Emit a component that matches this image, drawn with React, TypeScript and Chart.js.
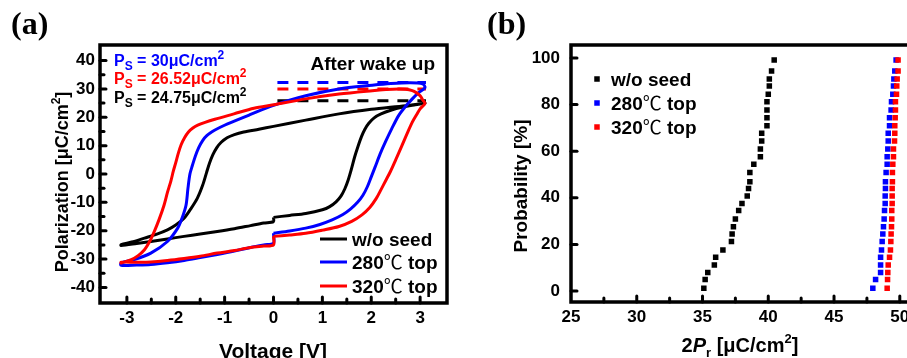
import React, { useEffect, useRef } from "react";
import { Chart, registerables } from "chart.js";
Chart.register(...registerables);

const FONT = '"Liberation Sans", Arial, Helvetica, sans-serif';
const CJK = '"Noto Sans CJK SC", "Noto Sans CJK JP", sans-serif';
const SERIF = '"Liberation Serif", "Times New Roman", serif';

// ---------------- Panel (a): P–V hysteresis loops ----------------
const voltTicks = [-3, -2, -1, 0, 1, 2, 3];
const polTicks = [-40, -30, -20, -10, 0, 10, 20, 30, 40];

const blackV = [0, 0.33, 0.66, 1.0, 1.15, 1.28, 1.38, 1.46, 1.53, 1.59, 1.66, 1.73, 1.8, 1.87, 1.95, 2.06, 2.2, 2.4, 2.65, 2.9, 3.1,
  2.7, 2.0, 1.34, 0.66, 0, -0.3, -0.61, -0.8, -0.95, -1.07, -1.16, -1.24, -1.31, -1.37, -1.45, -1.56, -1.7, -1.83, -2.0, -2.17, -2.4, -2.64, -2.9, -3.12,
  -3.12, -2.8, -2.51, -2.17, -1.83, -1.5, -1.15, -0.8, -0.47, -0.2, 0, 0];
const blackP = [-15.3, -14.6, -13.9, -12.6, -11.5, -9.8, -7.8, -5.2, -2, 1.5, 6, 9.8, 13.2, 15.8, 17.9, 19.8, 21.2, 22.5, 23.6, 24.4, 25,
  24.1, 22.8, 21.2, 19, 16.8, 15.8, 14.8, 13.9, 12.8, 11.2, 9.3, 6.8, 3.8, 0.5, -4, -8.6, -12.5, -15.6, -18, -19.7, -21.3, -22.6, -24, -24.9,
  -25.2, -24.5, -23.8, -22.9, -22, -21.2, -20.3, -19.3, -18.2, -17.3, -16.8, -15.3];

const blueV = [0, 0.33, 0.66, 0.95, 1.2, 1.42, 1.58, 1.72, 1.83, 1.92, 2.0, 2.08, 2.18, 2.29, 2.42, 2.56, 2.7, 2.84, 2.97, 3.1,
  3.05, 2.8, 2.4, 2.02, 1.34, 0.66, 0, -0.47, -0.94, -1.1, -1.25, -1.36, -1.45, -1.53, -1.6, -1.66, -1.71, -1.75, -1.79, -1.87, -1.96, -2.17, -2.51, -2.85, -3.12,
  -3.12, -2.8, -2.51, -2.17, -1.83, -1.5, -1.15, -0.8, -0.47, -0.2, 0, 0];
const blueP = [-20.9, -20.1, -19.1, -17.8, -16.2, -14.3, -12.3, -10, -7.5, -4.5, -1, 2.5, 7, 11.3, 16, 20.6, 23.8, 26.5, 28.7, 30.5,
  31.8, 32.2, 31.9, 31.3, 30, 27.6, 24.2, 21, 17.7, 16.4, 15, 13.6, 11.8, 9.3, 6.3, 3, 0, -5, -11, -15.5, -19.1, -23.8, -27.9, -30.2, -31.4,
  -32.2, -32.1, -31.9, -31.3, -30.5, -29.5, -28.4, -27.2, -25.9, -25, -24.4, -20.9];

const redV = [0, 0.33, 0.66, 1.0, 1.34, 1.6, 1.81, 1.97, 2.1, 2.2, 2.3, 2.39, 2.5, 2.63, 2.74, 2.84, 2.93, 3.0, 3.1,
  3.05, 3.0, 2.92, 2.84, 2.7, 2.56, 2.3, 2.02, 1.34, 0.66, 0, -0.4, -0.81, -1.2, -1.4, -1.55, -1.65, -1.74, -1.82, -1.89, -1.95, -2.0, -2.05, -2.1, -2.17, -2.24, -2.34, -2.44, -2.54, -2.64, -2.77, -2.91, -3.12,
  -3.12, -2.8, -2.51, -2.17, -1.83, -1.5, -1.15, -0.8, -0.47, -0.2, 0, 0];
const redP = [-22, -21.5, -20.9, -19.8, -18.5, -16.7, -14.4, -11.8, -8.7, -5.5, -2.2, 0.8, 5, 10.1, 14.5, 18.3, 21, 23, 24.9,
  26.2, 27.6, 28.7, 29.4, 29.9, 30, 29.8, 29.4, 28.2, 26.5, 24.4, 23.2, 21.2, 19.3, 18.2, 17.2, 16.2, 14.8, 12.8, 10.3, 7.2, 4, 1, -2.5, -6.5, -11, -16, -20.3, -24, -26.7, -28.8, -30.2, -31.4,
  -31.1, -31.1, -31, -30.5, -29.8, -29, -27.9, -27, -25.9, -25.4, -25, -22];

// saturation guide lines (dashed)
const dashV = [0.08, 3.12];
const psBlueLevel = 32.3;
const psRedLevel = 30.0;
const psBlackLevel = 25.8;
const psTexts = ["30", "26.52", "24.75"];

// ---------------- Panel (b): cumulative probability of 2Pr ----------------
const prTicks = [25, 30, 35, 40, 45, 50, 55];
const probTicks = [0, 20, 40, 60, 80, 100];
const probLevels = [1.2, 4.9, 7.9, 11.2, 14.5, 17.6, 21.2, 24.5, 27.6, 30.9, 34.5, 37.6, 40.8, 44.0, 46.9,
  50.9, 54.4, 57.6, 60.9, 64.4, 67.7, 70.9, 74.4, 77.7, 81.2, 84.4, 88.0, 91.0, 94.4, 99.1];
const prBlack = [35.1, 35.2, 35.4, 35.9, 36.0, 36.55, 37.2, 37.25, 37.35, 37.5, 37.75, 38.0, 38.4, 38.5, 38.6,
  38.6, 38.9, 39.4, 39.4, 39.5, 39.5, 39.9, 39.9, 39.9, 39.9, 40.0, 40.08, 40.08, 40.25, 40.45];
const prBlue = [47.95, 48.16, 48.54, 48.54, 48.54, 48.61, 48.66, 48.71, 48.76, 48.81, 48.84, 48.89, 48.89, 48.91, 48.91,
  48.96, 49.04, 49.04, 49.09, 49.12, 49.12, 49.22, 49.22, 49.34, 49.37, 49.47, 49.52, 49.55, 49.62, 49.72];
const prRed = [49.04, 49.07, 49.09, 49.12, 49.22, 49.29, 49.32, 49.34, 49.37, 49.39, 49.39, 49.42, 49.42, 49.42, 49.44,
  49.44, 49.47, 49.52, 49.52, 49.60, 49.62, 49.62, 49.65, 49.67, 49.67, 49.75, 49.77, 49.80, 49.87, 49.87];

const seriesNames = ["w/o seed", "280\u2103 top", "320\u2103 top"];
const seriesColors = ["#000000", "#0000ff", "#ff0000"];

type Seg = { t: string; size: number; dy?: number; italic?: boolean; fam?: string; weight?: string };

function fontOf(s: Seg) {
  return `${s.italic ? "italic " : ""}${s.weight || "bold"} ${s.size}px ${s.fam || FONT}`;
}

function drawRich(ctx: CanvasRenderingContext2D, x: number, y: number, segs: Seg[], color: string, align = "left") {
  ctx.fillStyle = color;
  ctx.textBaseline = "alphabetic";
  ctx.textAlign = "left";
  let w = 0;
  for (const s of segs) {
    ctx.font = fontOf(s);
    w += ctx.measureText(s.t).width;
  }
  let cx = align === "center" ? x - w / 2 : align === "right" ? x - w : x;
  for (const s of segs) {
    ctx.font = fontOf(s);
    ctx.fillText(s.t, cx, y + (s.dy || 0));
    cx += ctx.measureText(s.t).width;
  }
}

// split a label so the degree-Celsius sign uses a lighter CJK glyph
function labelSegs(text: string, size: number): Seg[] {
  const parts = text.split("\u2103");
  const out: Seg[] = [];
  parts.forEach((p, i) => {
    if (i > 0) out.push({ t: "\u2103", size: size, fam: CJK, weight: "normal" });
    if (p) out.push({ t: p, size });
  });
  return out;
}

function drawFrame(chart: any, xMajor: number[], xMinor: number[], yMajor: number[], yMinor: number[]) {
  const { ctx, chartArea: a } = chart;
  const xs = chart.scales.x;
  const ys = chart.scales.y;
  ctx.save();
  ctx.strokeStyle = "#000";
  ctx.lineCap = "round";
  ctx.lineWidth = 3;
  const seg = (x1: number, y1: number, x2: number, y2: number) => {
    ctx.beginPath();
    ctx.moveTo(x1, y1);
    ctx.lineTo(x2, y2);
    ctx.stroke();
  };
  xMajor.forEach((v) => {
    const p = xs.getPixelForValue(v);
    if (p > a.left + 2 && p < a.right - 2) seg(p, a.bottom, p, a.bottom - 6);
  });
  xMinor.forEach((v) => {
    const p = xs.getPixelForValue(v);
    if (p > a.left + 2 && p < a.right - 2) seg(p, a.bottom, p, a.bottom - 4);
  });
  yMajor.forEach((v) => {
    const p = ys.getPixelForValue(v);
    if (p > a.top + 2 && p < a.bottom - 2) seg(a.left, p, a.left + 6, p);
  });
  yMinor.forEach((v) => {
    const p = ys.getPixelForValue(v);
    if (p > a.top + 2 && p < a.bottom - 2) seg(a.left, p, a.left + 4, p);
  });
  ctx.lineCap = "butt";
  ctx.lineWidth = 3.5;
  ctx.strokeRect(a.left, a.top, a.right - a.left, a.bottom - a.top);
  ctx.restore();
}

const mids = (arr: number[]) => arr.slice(1).map((v, i) => (v + arr[i]) / 2);

const tickFont = { family: FONT, size: 17, weight: "bold" as const };

function loopDataset(V: number[], P: number[], color: string, order: number) {
  return {
    data: V.map((v, i) => ({ x: v, y: P[i] })),
    borderColor: color,
    backgroundColor: color,
    borderWidth: 3,
    showLine: true,
    pointRadius: 0,
    tension: 0.3,
    fill: false,
    order,
  };
}

function dashDataset(level: number, color: string) {
  return {
    data: dashV.map((v) => ({ x: v, y: level })),
    borderColor: color,
    borderWidth: 3,
    borderDash: [11, 9],
    showLine: true,
    pointRadius: 0,
    fill: false,
    order: 5,
  };
}

function pointsDataset(xs: number[], color: string, order: number) {
  return {
    data: xs.map((v, i) => ({ x: v, y: probLevels[i] })),
    pointStyle: "rect",
    pointRadius: 3.9,
    pointBackgroundColor: color,
    pointBorderColor: color,
    pointBorderWidth: 0,
    showLine: false,
    order,
  };
}

export default function App() {
  const aRef = useRef<HTMLCanvasElement>(null);
  const bRef = useRef<HTMLCanvasElement>(null);

  useEffect(() => {
    const pluginA = {
      id: "decorA",
      afterDraw(chart: any) {
        const ctx = chart.ctx as CanvasRenderingContext2D;
        drawFrame(chart, voltTicks, mids(voltTicks), polTicks, mids(polTicks));
        ctx.save();
        const ys = [66, 84, 103];
        const cols = [seriesColors[1], seriesColors[2], seriesColors[0]];
        psTexts.forEach((t, i) => {
          drawRich(ctx, 114, ys[i], [
            { t: "P", size: 16 },
            { t: "S", size: 12, dy: 4 },
            { t: ` = ${t}\u03bcC/cm`, size: 16 },
            { t: "2", size: 12, dy: -7 },
          ], cols[i]);
        });
        drawRich(ctx, 435, 70, [{ t: "After wake up", size: 19 }], "#000", "right");
        const ly = [239, 262, 286];
        seriesNames.forEach((n, i) => {
          ctx.strokeStyle = seriesColors[i];
          ctx.lineWidth = 3;
          ctx.beginPath();
          ctx.moveTo(320, ly[i]);
          ctx.lineTo(347, ly[i]);
          ctx.stroke();
          drawRich(ctx, 352, ly[i] + 7, labelSegs(n, 19), "#000");
        });
        drawRich(ctx, 273, 358, [{ t: "Voltage [V]", size: 21 }], "#000", "center");
        ctx.save();
        ctx.translate(68, 182);
        ctx.rotate(-Math.PI / 2);
        drawRich(ctx, 0, 0, [
          { t: "Polarization [\u03bcC/cm", size: 18 },
          { t: "2", size: 12, dy: -8 },
          { t: "]", size: 18 },
        ], "#000", "center");
        ctx.restore();
        ctx.font = `bold 32px ${SERIF}`;
        ctx.fillStyle = "#000";
        ctx.textAlign = "left";
        ctx.textBaseline = "alphabetic";
        ctx.fillText("(a)", 11, 34);
        ctx.restore();
      },
    };

    const pluginB = {
      id: "decorB",
      afterDraw(chart: any) {
        const ctx = chart.ctx as CanvasRenderingContext2D;
        drawFrame(chart, prTicks, mids(prTicks), probTicks, []);
        ctx.save();
        const ly = [79, 103, 127];
        seriesNames.forEach((n, i) => {
          ctx.fillStyle = seriesColors[i];
          ctx.fillRect(137 - 2.75, ly[i] - 2.75, 5.5, 5.5);
          drawRich(ctx, 151, ly[i] + 7, labelSegs(n, 19), "#000");
        });
        drawRich(ctx, 280, 352, [
          { t: "2", size: 20 },
          { t: "P", size: 20, italic: true },
          { t: "r", size: 13, dy: 5 },
          { t: " [\u03bcC/cm", size: 20 },
          { t: "2", size: 13, dy: -9 },
          { t: "]", size: 20 },
        ], "#000", "center");
        ctx.save();
        ctx.translate(67, 186);
        ctx.rotate(-Math.PI / 2);
        drawRich(ctx, 0, 0, [{ t: "Probability [%]", size: 19 }], "#000", "center");
        ctx.restore();
        ctx.font = `bold 32px ${SERIF}`;
        ctx.fillStyle = "#000";
        ctx.textAlign = "left";
        ctx.textBaseline = "alphabetic";
        ctx.fillText("(b)", 27, 34);
        ctx.restore();
      },
    };

    const chartA = new Chart(aRef.current as HTMLCanvasElement, {
      type: "scatter",
      data: {
        datasets: [
          loopDataset(redV, redP, seriesColors[2], 1),
          loopDataset(blueV, blueP, seriesColors[1], 2),
          loopDataset(blackV, blackP, seriesColors[0], 3),
          dashDataset(psBlueLevel, seriesColors[1]),
          dashDataset(psRedLevel, seriesColors[2]),
          dashDataset(psBlackLevel, seriesColors[0]),
        ] as any,
      },
      options: {
        responsive: false,
        maintainAspectRatio: false,
        animation: false,
        events: [],
        layout: { padding: { top: 45, right: 8, left: 0, bottom: 0 } },
        plugins: { legend: { display: false }, tooltip: { enabled: false } },
        scales: {
          x: {
            type: "linear",
            min: -3.55,
            max: 3.55,
            grid: { display: false, drawTicks: false },
            border: { display: false },
            ticks: { font: tickFont, color: "#000", padding: 5, maxRotation: 0, callback: (v: any) => String(v) },
            afterBuildTicks: (s: any) => { s.ticks = voltTicks.map((v) => ({ value: v })); },
            afterFit: (s: any) => { s.height = 55; },
          },
          y: {
            type: "linear",
            min: -45.5,
            max: 45.5,
            grid: { display: false, drawTicks: false },
            border: { display: false },
            ticks: { font: tickFont, color: "#000", padding: 5, callback: (v: any) => String(v) },
            afterBuildTicks: (s: any) => { s.ticks = polTicks.map((v) => ({ value: v })); },
            afterFit: (s: any) => { s.width = 100; },
          },
        },
      } as any,
      plugins: [pluginA],
    });

    const chartB = new Chart(bRef.current as HTMLCanvasElement, {
      type: "scatter",
      data: {
        datasets: [
          pointsDataset(prRed, seriesColors[2], 1),
          pointsDataset(prBlue, seriesColors[1], 2),
          pointsDataset(prBlack, seriesColors[0], 3),
        ] as any,
      },
      options: {
        responsive: false,
        maintainAspectRatio: false,
        animation: false,
        events: [],
        layout: { padding: { top: 45, right: 13, left: 0, bottom: 0 } },
        plugins: { legend: { display: false }, tooltip: { enabled: false } },
        scales: {
          x: {
            type: "linear",
            min: 25,
            max: 55,
            grid: { display: false, drawTicks: false },
            border: { display: false },
            ticks: { font: tickFont, color: "#000", padding: 5, maxRotation: 0, callback: (v: any) => String(v) },
            afterBuildTicks: (s: any) => { s.ticks = prTicks.map((v) => ({ value: v })); },
            afterFit: (s: any) => { s.height = 56; },
          },
          y: {
            type: "linear",
            min: -4.72,
            max: 105.58,
            grid: { display: false, drawTicks: false },
            border: { display: false },
            ticks: { font: tickFont, color: "#000", padding: 11, callback: (v: any) => String(v) },
            afterBuildTicks: (s: any) => { s.ticks = probTicks.map((v) => ({ value: v })); },
            afterFit: (s: any) => { s.width = 111; },
          },
        },
      } as any,
      plugins: [pluginB],
    });

    return () => {
      chartA.destroy();
      chartB.destroy();
    };
  }, []);

  return (
    <div style={{ position: "fixed", left: 0, top: 0, width: 907, height: 358, overflow: "hidden", background: "#fff" }}>
      <canvas ref={aRef} width={455} height={358} style={{ position: "absolute", left: 0, top: 0, width: 455, height: 358 }} />
      <canvas ref={bRef} width={520} height={358} style={{ position: "absolute", left: 460, top: 0, width: 520, height: 358 }} />
    </div>
  );
}
